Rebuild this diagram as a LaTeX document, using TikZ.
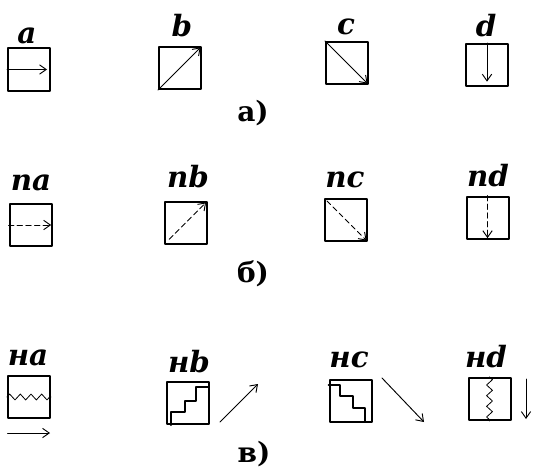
\documentclass[tikz,border=0pt]{standalone}
\usepackage{fontspec}
\setmainfont{DejaVu Serif}
\usetikzlibrary{arrows.meta,decorations.pathmorphing}

\begin{document}
\begin{tikzpicture}[x=0.75pt,y=-0.75pt,line cap=round,line join=round,
  cell/.style={draw,line width=1.5pt,inner sep=0pt,minimum size=31.5pt},
  tag/.style={font=\fontsize{22}{22}\selectfont\bfseries\itshape,anchor=base,inner sep=0pt},
  subcap/.style={font=\fontsize{21}{21}\selectfont\bfseries,anchor=base,inner sep=0pt},
  arr/.style={-{Straight Barb[length=5pt,width=7pt]},line width=0.7pt},
  darr/.style={arr,dash pattern=on 4pt off 2.5pt},
  stair/.style={line width=1.5pt},
  zz/.style={line width=0.6pt,decorate,decoration={zigzag,segment length=8pt,amplitude=2.2pt}}]
\useasboundingbox (0,0) rectangle (534,467);
% row a)
\node[cell] (a) at (29,69.5) {};
\node[cell] (b) at (180,68) {};
\node[cell] (c) at (347,63) {};
\node[cell] (d) at (487,65) {};
\node[tag] (ta) at (27,44) {a};
\node[tag] (tb) at (182,37) {b};
\node[tag] (tc) at (346,35) {c};
\node[tag] (td) at (486,37) {d};
\draw[arr,shorten >=3pt] (a.west) -- (a.east);
\draw[arr,shorten >=1.5pt] (b.south west) -- (b.north east);
\draw[arr,shorten >=1.5pt] (c.north west) -- (c.south east);
\draw[arr,shorten >=4pt] (d.north) -- (d.south);
\node[subcap] (capa) at (253,121) {а)};
% row b)
\node[cell] (na) at (30.5,225) {};
\node[cell] (nb) at (185.5,223) {};
\node[cell] (nc) at (346,220) {};
\node[cell] (nd) at (487.5,217.5) {};
\node[tag] (tna) at (31,190) {na};
\node[tag] (tnb) at (188,187) {nb};
\node[tag] (tnc) at (345,187) {nc};
\node[tag] (tnd) at (488,186) {nd};
\draw[darr,shorten >=1pt] (na.west) -- (na.east);
\draw[darr,shorten <=6pt,shorten >=1.5pt] (nb.south west) -- (nb.north east);
\draw[darr,shorten <=3pt,shorten >=1.5pt] (nc.north west) -- (nc.south east);
\draw[darr,shorten >=1pt] (nd.north) -- (nd.south);
\node[subcap] (capb) at (253,282) {б)};
% row v)
\node[cell] (ha) at (29,397) {};
\node[cell] (hb) at (188,403) {};
\node[cell] (hc) at (350.5,401) {};
\node[cell] (hd) at (489.5,399) {};
\node[tag] (tha) at (28,365) {на};
\node[tag] (thb) at (189,372) {нb};
\node[tag] (thc) at (349,367) {нc};
\node[tag] (thd) at (486,367) {нd};
\draw[zz] (ha.west) -- (ha.east);
\draw[zz] (hd.north) -- (hd.south);
\draw[stair] (hb.south west) ++(5,0) -- ++(0,-13) -- ++(14,0) -- ++(0,-11)
  -- ++(11,0) -- ++(0,-14) -- ++(12,0);
\draw[stair] (hc.north west) ++(0,6) -- ++(11.5,0) -- ++(0,11) -- ++(13,0)
  -- ++(0,12) -- ++(12,0) -- ++(0,13);
\coordinate (ha1) at (7.5,433);
\coordinate (ha2) at (50,433);
\coordinate (hb1) at (220,422);
\coordinate (hb2) at (258,384);
\coordinate (hc1) at (382,378);
\coordinate (hc2) at (424,422);
\coordinate (hd1) at (526,379);
\coordinate (hd2) at (526,419);
\draw[arr] (ha1) -- (ha2);
\draw[arr] (hb1) -- (hb2);
\draw[arr] (hc1) -- (hc2);
\draw[arr] (hd1) -- (hd2);
\node[subcap] (capv) at (254,462) {в)};
\end{tikzpicture}
\end{document}
